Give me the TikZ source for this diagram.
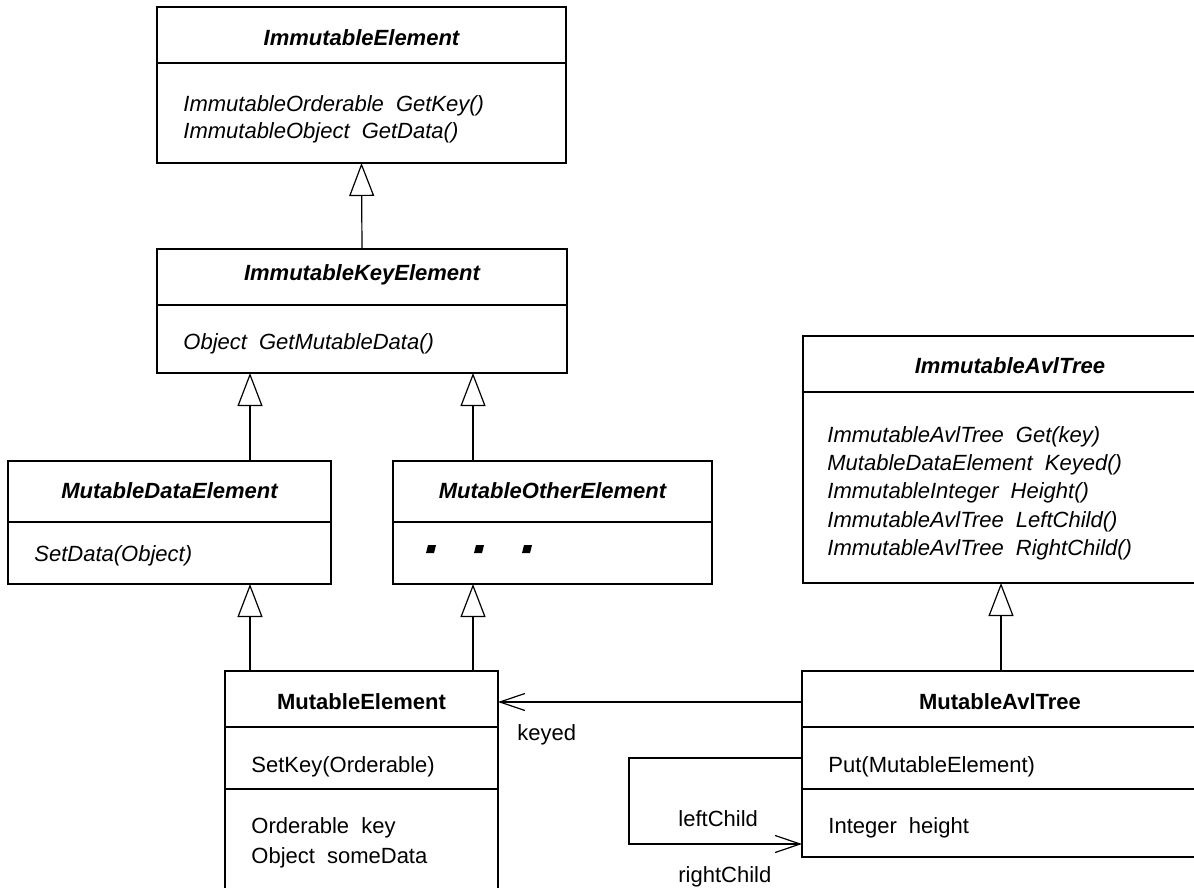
\documentclass[tikz,border=0pt]{standalone}
\usepackage{fontspec}
\setmainfont{Liberation Sans}
\usetikzlibrary{arrows.meta}
\newcommand\dfont{\fontsize{11}{13}\selectfont}
\newcommand\gap{\hspace{0.55em}}
\begin{document}
\begin{tikzpicture}[x=0.5pt,y=-0.5pt,
  box/.style={draw, line width=0.6pt, inner sep=0pt, outer sep=0pt, anchor=north west},
  ttl/.style={anchor=base, font=\dfont\bfseries\itshape, inner sep=0pt},
  cls/.style={anchor=base, font=\dfont\bfseries, inner sep=0pt},
  mth/.style={anchor=base west, font=\dfont\itshape, inner sep=0pt},
  att/.style={anchor=base west, font=\dfont, inner sep=0pt},
  lbl/.style={anchor=base west, font=\dfont, inner sep=0pt},
  div/.style={line width=0.6pt},
  gen/.style={line width=0.6pt, -{Triangle[open, length=16.5pt, width=12.5pt]}},
  assoc/.style={line width=0.6pt, -{Straight Barb[length=12.5pt, width=8.5pt]}},
  dot/.style={fill=black}
]
\path[use as bounding box] (0,0) rectangle (1194,888);
\clip (0,0) rectangle (1194,888);

% ImmutableElement
\node[box, minimum width=204.5pt, minimum height=78pt] (ie) at (157,7) {};
\draw[div] (157,63) -- (566,63);
\node[ttl] (ie-t) at (361.5,46) {ImmutableElement};
\node[mth] (ie-m1) at (183,112) {ImmutableOrderable\gap GetKey()};
\node[mth] (ie-m2) at (183,139) {ImmutableObject\gap GetData()};

% ImmutableKeyElement
\node[box, minimum width=205pt, minimum height=62pt] (ike) at (157,249) {};
\draw[div] (157,305) -- (567,305);
\node[ttl] (ike-t) at (362,280) {ImmutableKeyElement};
\node[mth] (ike-m1) at (183,349) {Object\gap GetMutableData()};

% MutableDataElement
\node[box, minimum width=161.5pt, minimum height=61.5pt] (mde) at (8,461) {};
\draw[div] (8,522) -- (331,522);
\node[ttl] (mde-t) at (169.5,498) {MutableDataElement};
\node[mth] (mde-m1) at (34,561) {SetData(Object)};

% MutableOtherElement
\node[box, minimum width=159.5pt, minimum height=61.5pt] (moe) at (393,461) {};
\draw[div] (393,522) -- (712,522);
\node[ttl] (moe-t) at (552.5,498) {MutableOtherElement};
\foreach \dx in {431,479,527}
  \fill[dot] (\dx-5,553) -- (\dx+3,553) -- (\dx+5,545) -- (\dx-3,545) -- cycle;

% ImmutableAvlTree
\node[box, minimum width=207pt, minimum height=123.5pt] (iat) at (803,336) {};
\draw[div] (803,392) -- (1217,392);
\node[ttl] (iat-t) at (1010,373) {ImmutableAvlTree};
\node[mth] (iat-m1) at (827,442) {ImmutableAvlTree\gap Get(key)};
\node[mth] (iat-m2) at (827,470) {MutableDataElement\gap Keyed()};
\node[mth] (iat-m3) at (827,498) {ImmutableInteger\gap Height()};
\node[mth] (iat-m4) at (827,527) {ImmutableAvlTree\gap LeftChild()};
\node[mth] (iat-m5) at (827,555) {ImmutableAvlTree\gap RightChild()};

% MutableElement
\node[box, minimum width=136.5pt, minimum height=124.5pt] (me) at (225,671) {};
\draw[div] (225,727) -- (498,727);
\draw[div] (225,789) -- (498,789);
\node[cls] (me-t) at (361.5,709) {MutableElement};
\node[att] (me-m1) at (251,772) {SetKey(Orderable)};
\node[att] (me-a1) at (251,833) {Orderable\gap key};
\node[att] (me-a2) at (251,863) {Object\gap someData};

% MutableAvlTree
\node[box, minimum width=198pt, minimum height=93pt] (mat) at (802,671) {};
\draw[div] (802,727) -- (1198,727);
\draw[div] (802,789) -- (1198,789);
\node[cls] (mat-t) at (1000,709) {MutableAvlTree};
\node[att] (mat-m1) at (828,772) {Put(MutableElement)};
\node[att] (mat-a1) at (828,833) {Integer\gap height};

% helper coordinates
\coordinate (c250) at (250,0);
\coordinate (c473) at (473,0);
\coordinate (c1001) at (1001,0);
\coordinate (ky) at (0,702);
\coordinate (lp1) at (0,758);
\coordinate (lp2) at (0,844);
\coordinate (lpx) at (629,0);

% generalizations
\draw[gen] (ike.north) -- (ie.south);
\draw[gen] (mde.north -| c250) -- (ike.south -| c250);
\draw[gen] (moe.north -| c473) -- (ike.south -| c473);
\draw[gen] (me.north -| c250) -- (mde.south -| c250);
\draw[gen] (me.north -| c473) -- (moe.south -| c473);
\draw[gen] (mat.north -| c1001) -- (iat.south -| c1001);

% associations
\draw[assoc] (mat.west |- ky) -- (me.east |- ky);
\draw[assoc] (mat.west |- lp1) -| (lpx |- lp2) -- (mat.west |- lp2);

% labels
\node[lbl] (l-keyed) at (517,740) {keyed};
\node[lbl] (l-left) at (678,826) {leftChild};
\node[lbl] (l-right) at (678,882) {rightChild};
\end{tikzpicture}
\end{document}
